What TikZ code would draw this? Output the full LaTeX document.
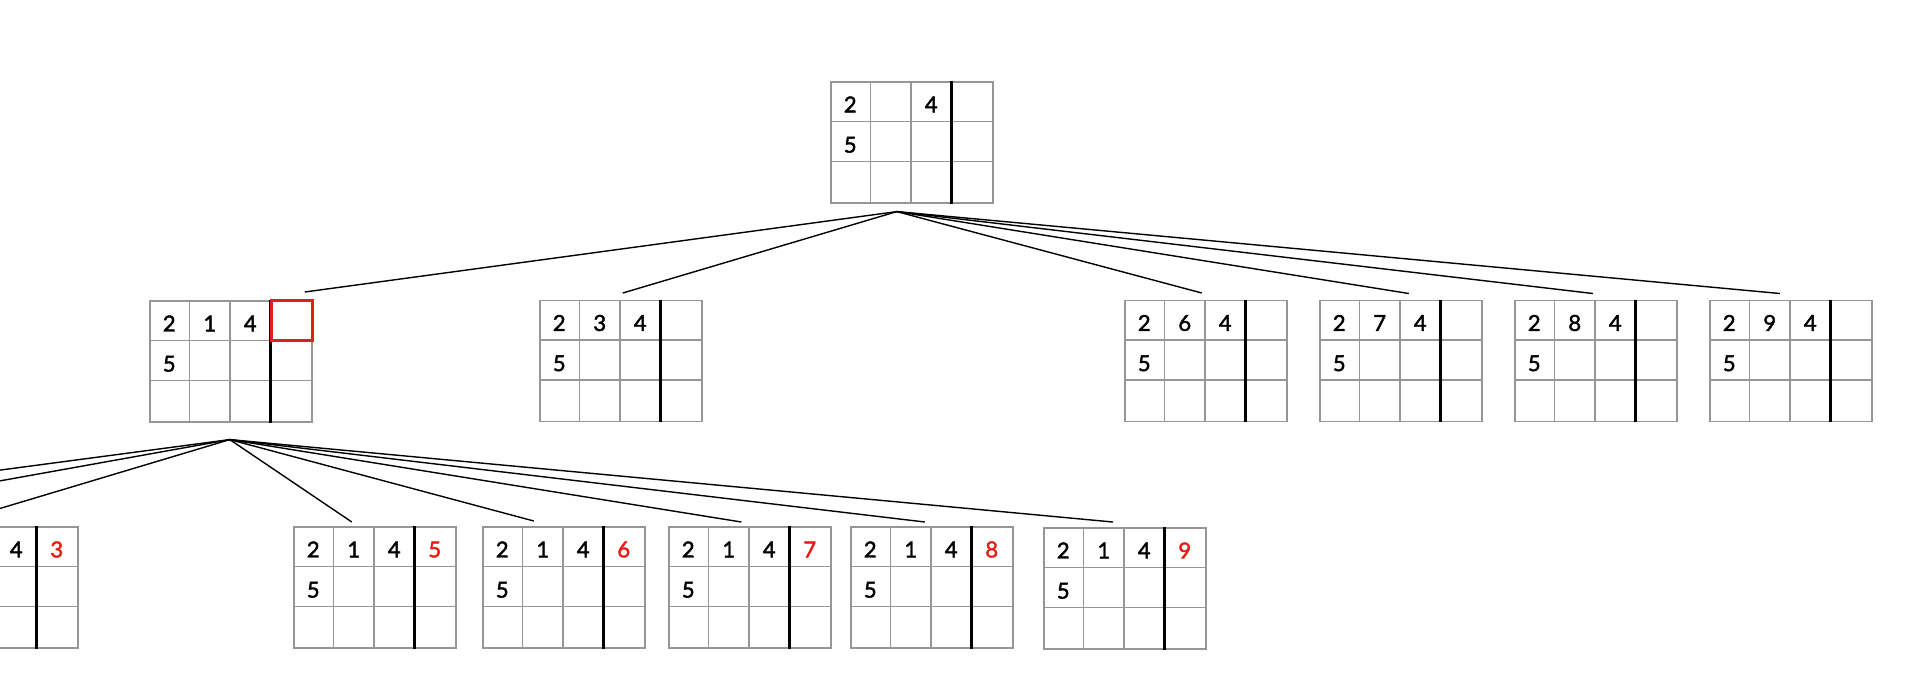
\documentclass[tikz,border=0pt]{standalone}
\usepackage{fontspec}
\setmainfont{Lato}
\newfontfamily\digitfont{Lato}[FakeBold=2]
\usetikzlibrary{calc}
\definecolor{gridgray}{RGB}{150,150,150}
\definecolor{hired}{RGB}{228,30,20}
\newif\ifleftdigits \leftdigitstrue
\tikzset{
 gridbox/.style={draw=gridgray, line width=1.6pt, minimum width=162pt, minimum height=121pt, inner sep=0pt, anchor=north west},
 gridline/.style={draw=gridgray, line width=1.6pt},
 sepline/.style={draw=black, line width=3pt},
 digit/.style={font=\digitfont\fontsize{22}{22}\selectfont, inner sep=0pt},
 edge/.style={draw=black, line width=1.4pt},
 redbox/.style={draw=hired, line width=3pt},
}
\newcommand\sgrid[7]{%
 \node[gridbox] (#1) at (#2,#3) {};
 \foreach \i in {1,2} \draw[gridline] ($(#1.north west)+(\i*40.5,0)$) -- ($(#1.south west)+(\i*40.5,0)$);
 \foreach \j in {1,2} \draw[gridline] ($(#1.north west)+(0,\j*40.33)$) -- ($(#1.north east)+(0,\j*40.33)$);
 \draw[sepline] ($(#1.north west)+(121.5,0)$) -- ($(#1.south west)+(121.5,0)$);
 \ifleftdigits
 \node[digit] (#1-a) at ($(#1.north west)+(20.25,23.5)$) {2};
 \node[digit] (#1-b) at ($(#1.north west)+(60.75,23.5)$) {#4};
 \node[digit] (#1-e) at ($(#1.north west)+(20.25,63.8)$) {5};
 \fi
 \node[digit] (#1-c) at ($(#1.north west)+(101.25,23.5)$) {4};
 \node[digit,text=hired] (#1-d) at ($(#1.north west)+(141.75,23.5)$) {#5};
 \coordinate (#1-in) at ($(#1.north)+(#6,#7)$);
}
\begin{document}
\begin{tikzpicture}[x=1pt,y=-1pt]
\useasboundingbox (0,0) rectangle (1917,685);
\fill[white] (0,0) rectangle (1917,685);
\clip (0,0) rectangle (1917,685);
% root
\sgrid{root}{830}{81}{}{}{0}{0}
\coordinate (root-out) at ($(root.south)+(-15,8)$);
% second row
\sgrid{g214}{149}{300}{1}{}{74}{-8}
\draw[redbox] ($(g214.north west)+(122,0.5)$) rectangle ($(g214.north east)+(-0.5,40.33)$);
\coordinate (g214-out) at ($(g214.south)+(-1,17)$);
\sgrid{g234}{539}{299.5}{3}{}{2}{-6.5}
\sgrid{g264}{1124}{299.5}{6}{}{-4}{-6.5}
\sgrid{g274}{1319}{299.5}{7}{}{8}{-6}
\sgrid{g284}{1514}{299.5}{8}{}{-3}{-6}
\sgrid{g294}{1709}{299.5}{9}{}{-11}{-6}
% third row
\leftdigitsfalse
\sgrid{g2143}{-85}{526}{1}{3}{-42}{-4}
\leftdigitstrue
\sgrid{g2145}{293}{526}{1}{5}{-23}{-4}
\sgrid{g2146}{482}{526}{1}{6}{-30}{-5}
\sgrid{g2147}{668}{526}{1}{7}{-8.5}{-4}
\sgrid{g2148}{850}{526}{1}{8}{-7}{-4}
\sgrid{g2149}{1043}{527}{1}{9}{-12}{-5}
\coordinate (off1) at (-229,522);
\coordinate (off2) at (-391,522);
% connectors
\foreach \c in {g214,g234,g264,g274,g284,g294}
  \draw[edge] (root-out) -- (\c-in);
\foreach \c in {g2143,g2145,g2146,g2147,g2148,g2149}
  \draw[edge] (g214-out) -- (\c-in);
\draw[edge] (g214-out) -- (off1);
\draw[edge] (g214-out) -- (off2);
\end{tikzpicture}
\end{document}
